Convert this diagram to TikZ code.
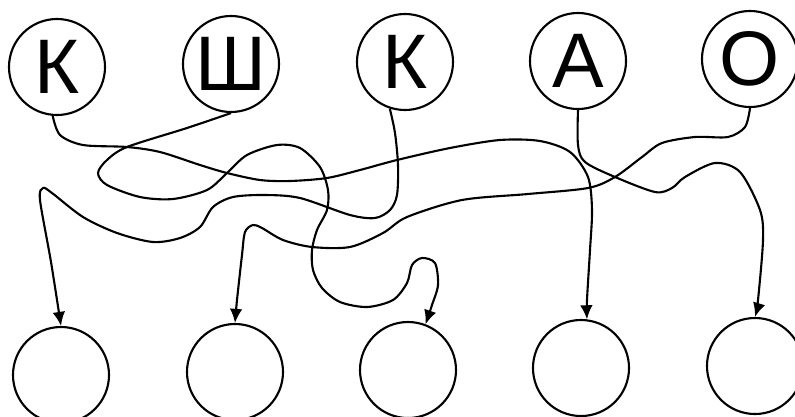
\documentclass[tikz,border=0pt]{standalone}
\usepackage{fontspec}
\setmainfont{Liberation Sans}
\usetikzlibrary{arrows.meta}
\tikzset{
  letter/.style={draw, circle, line width=1.5pt, minimum size=2.4cm, inner sep=0pt, font=\fontsize{55}{55}\selectfont},
  blank/.style={letter},
  wire/.style={line width=1.5pt, -{Latex[length=10pt,width=9pt]}}
}
\begin{document}
\begin{tikzpicture}[x=0.025cm, y=-0.025cm]
  \useasboundingbox (0,0) rectangle (795,416);
  \node[letter] (k1) at (57,67) {К};
  \node[letter] (sh) at (231,64) {Ш};
  \node[letter] (k2) at (405,62) {К};
  \node[letter] (a) at (578,61) {А};
  \node[letter] (o) at (750,59) {О};
  \node[blank] (b1) at (61,375) {};
  \node[blank] (b2) at (235,372) {};
  \node[blank] (b3) at (408,370) {};
  \node[blank] (b4) at (581,368) {};
  \node[blank] (b5) at (755,366) {};
  \draw[wire] plot[smooth] coordinates {(k1.-95) (60,135) (83,145) (127,147) (160,152) (200,165) (227,173) (260,180) (290,181) (327,178) (360,170) (397,160) (450,148) (500,140) (540,141) (570,152) (588,177) (592,210) (590,250) (587,300) (b4.83)};
  \draw[wire] plot[smooth] coordinates {(sh.south) (187,128) (127,147) (107,160) (98,173) (107,185) (140,197) (173,199) (207,190) (227,173) (247,155) (277,145) (300,148) (320,167) (328,190) (327,210) (317,230) (312,250) (313,270) (322,288) (340,302) (367,307) (393,300) (407,283) (412,265) (422,258) (435,263) (438,285) (432,305) (b3.69)};
  \draw[wire] plot[smooth] coordinates {(k2.-108) (395,133) (398,165) (397,195) (390,210) (375,218) (350,215) (300,198) (265,195) (233,197) (213,207) (200,227) (180,238) (153,242) (117,233) (83,217) (52,193) (43,188) (40,200) (51,262) (b1.north)};
  \draw[wire] plot[smooth] coordinates {(a.south) (578,145) (585,162) (615,177) (655,192) (672,188) (685,177) (715,163) (740,172) (760,210) (763,240) (758,300) (b5.north)};
  \draw[wire] plot[smooth] coordinates {(o.south) (745,127) (728,137) (695,137) (662,143) (642,157) (615,177) (588,188) (528,194) (462,200) (407,217) (383,233) (350,247) (312,247) (283,240) (262,228) (253,225) (245,232) (242,255) (237,300) (b2.north)};
\end{tikzpicture}
\end{document}
